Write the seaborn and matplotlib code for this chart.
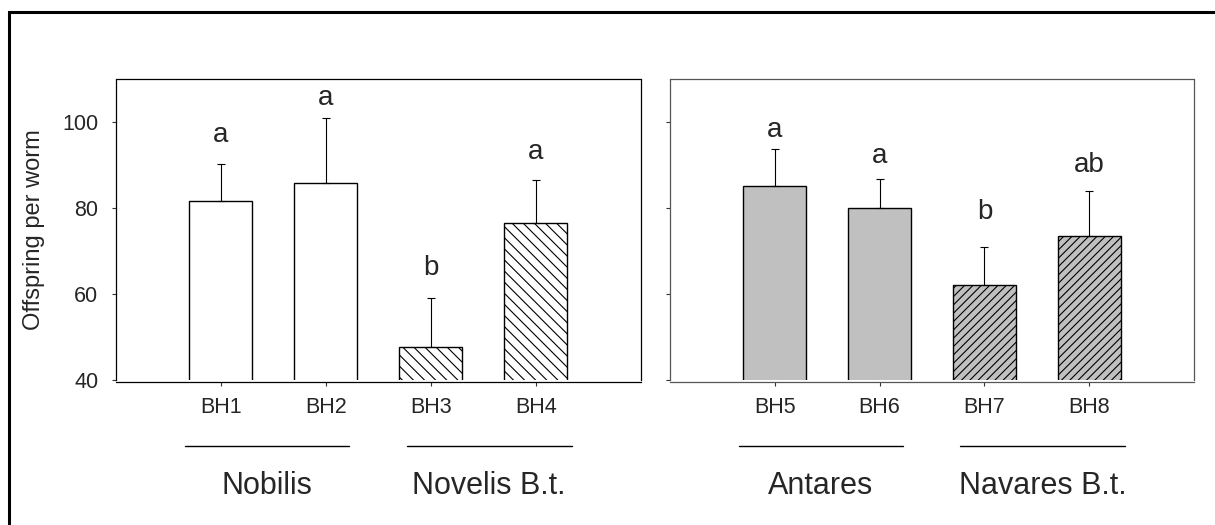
"""Offspring per worm for eight BH lines, two panels with group bars underneath."""

import matplotlib
matplotlib.use("Agg")

import matplotlib.pyplot as plt
import seaborn as sns
from matplotlib.patches import Rectangle

LEFT_LABELS = ["BH1", "BH2", "BH3", "BH4"]
LEFT_MEANS = [81.6, 85.8, 47.6, 76.6]
LEFT_ERR = [8.8, 15.3, 11.5, 9.9]
LEFT_LETTERS = ["a", "a", "b", "a"]
LEFT_LETTER_Y = [95.5, 104.0, 64.4, 91.5]
LEFT_GROUPS = ["Nobilis", "Novelis B.t."]

RIGHT_LABELS = ["BH5", "BH6", "BH7", "BH8"]
RIGHT_MEANS = [85.1, 80.0, 62.1, 73.6]
RIGHT_ERR = [8.6, 6.9, 8.9, 10.5]
RIGHT_LETTERS = ["a", "a", "b", "ab"]
RIGHT_LETTER_Y = [96.7, 90.5, 77.6, 88.5]
RIGHT_GROUPS = ["Antares", "Navares B.t."]

Y_TICKS = [40, 60, 80, 100]

# layout: group underline spans in category units
GROUP_SPANS = [(-0.34, 1.22), (1.77, 3.34)]

PANELS = [
    {
        "labels": LEFT_LABELS, "means": LEFT_MEANS, "err": LEFT_ERR,
        "letters": LEFT_LETTERS, "letter_y": LEFT_LETTER_Y, "groups": LEFT_GROUPS,
        "fill": "white", "hatches": ["", "", "\\\\\\", "\\\\\\"],
        "spine": "black", "rect": [115.7, 525.3],
    },
    {
        "labels": RIGHT_LABELS, "means": RIGHT_MEANS, "err": RIGHT_ERR,
        "letters": RIGHT_LETTERS, "letter_y": RIGHT_LETTER_Y, "groups": RIGHT_GROUPS,
        "fill": "#c0c0c0", "hatches": ["", "", "////", "////"],
        "spine": "#555555", "rect": [670.0, 524.0],
    },
]

W, H = 1215, 525

sns.set_style("ticks")
plt.rcParams["font.family"] = ["Liberation Sans", "DejaVu Sans"]
plt.rcParams["hatch.linewidth"] = 0.8

fig = plt.figure(figsize=(W / 100, H / 100), dpi=100)

axes_bottom = 1 - 380.0 / H
axes_height = (380.0 - 79.5) / H

for i, panel in enumerate(PANELS):
    x0, width = panel["rect"]
    ax = fig.add_axes([x0 / W, axes_bottom, width / W, axes_height])
    n = len(panel["labels"])

    sns.barplot(
        x=panel["labels"], y=panel["means"], ax=ax,
        color=panel["fill"], saturation=1, width=0.6,
        edgecolor="black", linewidth=1.0, errorbar=None,
    )
    for patch, hatch in zip(ax.patches, panel["hatches"]):
        patch.set_hatch(hatch)

    ax.errorbar(
        range(n), panel["means"], yerr=[[0] * n, panel["err"]],
        fmt="none", ecolor="black", elinewidth=0.8, capsize=2.9, capthick=0.8,
        zorder=1,
    )

    for xi, (letter, ly) in enumerate(zip(panel["letters"], panel["letter_y"])):
        ax.text(xi, ly, letter, ha="center", va="baseline", fontsize=20)

    ax.set_xlim(-1, 4)
    ax.set_ylim(40, 110)
    ax.set_yticks(Y_TICKS)
    ax.set_xlabel("")

    for side in ["left", "right", "top", "bottom"]:
        ax.spines[side].set_visible(True)
        ax.spines[side].set_color(panel["spine"])
        ax.spines[side].set_linewidth(0.9)
    ax.spines["bottom"].set_position(("outward", 1.5))

    ax.tick_params(axis="x", length=3, width=0.8, color="#333333", pad=8, labelsize=15.5)
    ax.tick_params(axis="y", length=3, width=0.8, color="#333333", pad=9.5, labelsize=15.5)

    if i == 0:
        ax.set_ylabel("Offspring per worm", fontsize=17)
        ax.yaxis.set_label_coords(-0.135, 0.5)
    else:
        ax.set_ylabel("")
        ax.set_yticklabels([])

    trans = ax.get_xaxis_transform()
    for name, (a, b) in zip(panel["groups"], GROUP_SPANS):
        ax.plot([a, b], [-0.221, -0.221], color="black", lw=1.0,
                transform=trans, clip_on=False)
        ax.text((a + b) / 2, -0.379, name, transform=trans, ha="center",
                va="baseline", fontsize=22)

# outer frame, open past the right and bottom edges
fig.add_artist(Rectangle((9 / W, -0.1), 1.2, 1 - 12 / H + 0.1,
                         transform=fig.transFigure, fill=False,
                         edgecolor="black", linewidth=2.2))

fig.savefig("out.png", dpi=100)
